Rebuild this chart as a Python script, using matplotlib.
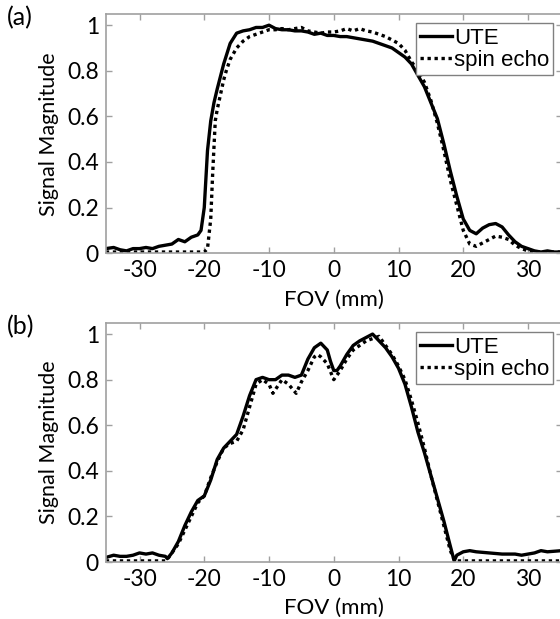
import matplotlib
matplotlib.use("Agg")
import matplotlib.pyplot as plt
import numpy as np

# panel (a)
a_ute_x = [-35.2, -34, -33, -32, -31, -30, -29, -28, -27, -26, -25, -24, -23, -22, -21, -20.5,
           -20, -19.5, -19, -18.5, -18, -17, -16, -15, -14, -13, -12, -11, -10, -9, -8, -7,
           -6, -5, -4, -3, -2, -1, 0, 1, 2, 3, 4, 5, 6, 7, 8, 9, 10, 11, 12, 13, 14, 15, 16,
           17, 18, 19, 20, 21, 22, 23, 24, 25, 26, 27, 28, 29, 30, 31, 32, 33, 34, 35.2]
a_ute_y = [0.02, 0.025, 0.015, 0.01, 0.02, 0.02, 0.025, 0.02, 0.03, 0.035, 0.04, 0.06, 0.05,
           0.07, 0.08, 0.1, 0.2, 0.45, 0.58, 0.66, 0.72, 0.83, 0.92, 0.965, 0.975, 0.98, 0.99,
           0.99, 1.0, 0.985, 0.98, 0.98, 0.975, 0.975, 0.97, 0.96, 0.965, 0.955, 0.955, 0.95,
           0.95, 0.945, 0.94, 0.935, 0.93, 0.92, 0.91, 0.9, 0.88, 0.86, 0.83, 0.78, 0.73, 0.66,
           0.59, 0.48, 0.36, 0.25, 0.15, 0.1, 0.085, 0.11, 0.125, 0.13, 0.115, 0.08, 0.05, 0.03,
           0.02, 0.01, 0.005, 0.01, 0.005, 0.005]
a_se_x = [-35.2, -30, -25, -20, -19.5, -19, -18.7, -18.3, -18, -17, -16.6, -16, -15, -14,
          -13, -12, -11, -10, -9, -8, -7, -6, -5, -4, -3, -2, -1, 0, 1, 2, 3, 4, 5, 6, 7, 8,
          9, 10, 11, 12, 13, 14, 15, 16, 17, 18, 19, 20, 21, 22, 23, 24, 25, 26, 27, 28, 29,
          30, 31, 35.2]
a_se_y = [0.005, 0.005, 0.005, 0.005, 0.02, 0.15, 0.35, 0.58, 0.63, 0.76, 0.8, 0.85, 0.9,
          0.93, 0.95, 0.96, 0.97, 0.98, 0.98, 0.985, 0.98, 0.985, 0.99, 0.975, 0.97, 0.965,
          0.97, 0.97, 0.975, 0.985, 0.975, 0.985, 0.975, 0.97, 0.96, 0.95, 0.935, 0.92, 0.89,
          0.84, 0.8, 0.75, 0.67, 0.57, 0.45, 0.32, 0.21, 0.1, 0.04, 0.03, 0.045, 0.06, 0.075,
          0.07, 0.06, 0.035, 0.02, 0.01, 0.005, 0.005]

# panel (b)
b_ute_x = [-35.2, -34, -33, -32, -31, -30, -29, -28, -27, -26, -25.7, -25, -24, -23, -22,
           -21, -20, -19, -18, -17, -16, -15, -14, -13, -12, -11, -10, -9, -8, -7, -6, -5,
           -4, -3, -2, -1, -0.5, 0, 0.5, 1, 2, 3, 4, 5, 6, 7, 8, 9, 10, 11, 12, 13, 14, 15,
           16, 17, 18, 18.6, 19, 20, 21, 22, 24, 26, 28, 29, 30, 31, 32, 33, 35.2]
b_ute_y = [0.02, 0.03, 0.025, 0.025, 0.03, 0.04, 0.035, 0.04, 0.03, 0.025, 0.015, 0.04, 0.09,
           0.16, 0.22, 0.27, 0.29, 0.36, 0.45, 0.5, 0.53, 0.56, 0.64, 0.73, 0.8, 0.81, 0.8, 0.8,
           0.82, 0.82, 0.81, 0.82, 0.89, 0.94, 0.96, 0.93, 0.88, 0.84, 0.84, 0.86, 0.91, 0.95,
           0.97, 0.985, 1.0, 0.97, 0.94, 0.9, 0.85, 0.78, 0.68, 0.57, 0.48, 0.38, 0.28, 0.18,
           0.07, 0.005, 0.03, 0.045, 0.05, 0.045, 0.04, 0.035, 0.035, 0.03, 0.035, 0.04, 0.05,
           0.045, 0.05]
b_se_x = [-35.2, -30, -26, -25.5, -25, -24, -23, -22, -21, -20, -19, -18, -17, -16, -15, -14,
          -13, -12, -11, -10, -9.4, -8, -7, -5.8, -5, -4, -3, -2.5, -2, -1, 0, 1, 2, 3, 4, 5,
          6, 7, 8, 9, 10, 11, 12, 13, 14, 15, 16, 17, 18, 18.7, 35.2]
b_se_y = [0.005, 0.005, 0.005, 0.02, 0.04, 0.08, 0.14, 0.2, 0.26, 0.29, 0.37, 0.44, 0.5, 0.52,
          0.53, 0.58, 0.68, 0.78, 0.8, 0.78, 0.74, 0.8, 0.78, 0.74, 0.79, 0.84, 0.9, 0.91, 0.9,
          0.87, 0.8, 0.84, 0.89, 0.93, 0.95, 0.97, 0.98, 0.99, 0.95, 0.91, 0.86, 0.8, 0.71,
          0.61, 0.5, 0.38, 0.27, 0.16, 0.05, 0.005, 0.005]

x_ticks = [-30, -20, -10, 0, 10, 20, 30]
y_ticks = [0, 0.2, 0.4, 0.6, 0.8, 1]
y_tick_labels = ["0", "0.2", "0.4", "0.6", "0.8", "1"]

plt.rcParams["font.family"] = ["Lato", "DejaVu Sans"]
plt.rcParams["axes.unicode_minus"] = False
grey = "#a0a0a0"

fig = plt.figure(figsize=(5.6, 6.19), dpi=100)
panels = [
    ("(a)", [0.189, 0.591, 0.814, 0.386], a_ute_x, a_ute_y, a_se_x, a_se_y),
    ("(b)", [0.189, 0.092, 0.814, 0.386], b_ute_x, b_ute_y, b_se_x, b_se_y),
]

for tag, pos, ux, uy, sx, sy in panels:
    ax = fig.add_axes(pos)
    ax.plot(ux, uy, color="black", lw=2.4, label="UTE")
    ax.plot(sx, sy, color="black", lw=2.4, linestyle=(0, (1, 1.1)), label="spin echo")
    ax.set_xlim(-35.2, 35.2)
    ax.set_ylim(0, 1.048)
    ax.set_xticks(x_ticks)
    ax.set_yticks(y_ticks)
    ax.set_yticklabels(y_tick_labels)
    ax.tick_params(direction="in", length=4, width=1, color=grey, labelsize=16.5,
                   top=True, right=True, pad=5)
    for s in ax.spines.values():
        s.set_color(grey)
        s.set_linewidth(1.2)
    ax.set_xlabel("FOV (mm)", fontsize=16, labelpad=6)
    ax.set_ylabel("Signal Magnitude", fontsize=15.5, labelpad=6)
    leg = ax.legend(loc="upper right", bbox_to_anchor=(0.982, 0.962), borderaxespad=0,
                    fancybox=False, edgecolor="#808080", framealpha=1,
                    prop={"family": ["Liberation Sans Narrow", "Liberation Sans"], "size": 16},
                    handlelength=1.4, handletextpad=0.1, labelspacing=0.05, borderpad=0.2)
    leg.get_frame().set_linewidth(1.0)
    fig.text(0.012, pos[1] + pos[3] - 0.005, tag, fontsize=18, va="center", ha="left")

fig.savefig("out.png", dpi=100)
